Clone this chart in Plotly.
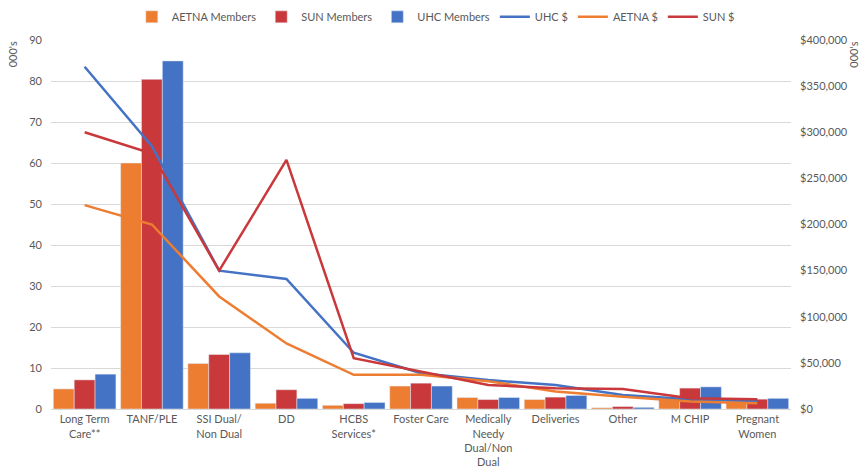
import plotly.graph_objects as go

categories = ["Long Term<br>Care**", "TANF/PLE", "SSI Dual/<br>Non Dual", "DD", "HCBS<br>Services*",
              "Foster Care", "Medically<br>Needy<br>Dual/Non<br>Dual", "Deliveries", "Other", "M CHIP",
              "Pregnant<br>Women"]
aetna_members = [4.9, 60.0, 11.1, 1.4, 0.9, 5.6, 2.8, 2.3, 0.3, 2.7, 1.9]
sun_members = [7.1, 80.4, 13.3, 4.7, 1.3, 6.3, 2.3, 2.9, 0.6, 5.1, 2.4]
uhc_members = [8.5, 84.9, 13.7, 2.6, 1.6, 5.6, 2.8, 3.3, 0.4, 5.4, 2.6]
uhc_dollars = [371000, 285000, 150000, 141000, 61000, 38700, 31400, 26000, 15200, 10500, 8500]
aetna_dollars = [221000, 200000, 122000, 71000, 37000, 37000, 30000, 19000, 13300, 8000, 6100]
sun_dollars = [300000, 277000, 150000, 270000, 55000, 40400, 26000, 22400, 21700, 11600, 10500]

ORANGE = "#ED7D31"
RED = "#C9383A"
BLUE = "#4472C4"
FONT = "Lato"
GRAY = "#595959"

fig = go.Figure()
fig.add_trace(go.Bar(x=categories, y=aetna_members, name="AETNA Members", marker_color=ORANGE))
fig.add_trace(go.Bar(x=categories, y=sun_members, name="SUN Members", marker_color=RED))
fig.add_trace(go.Bar(x=categories, y=uhc_members, name="UHC Members", marker_color=BLUE))
fig.add_trace(go.Scatter(x=categories, y=uhc_dollars, name="UHC $", mode="lines",
                         line=dict(color=BLUE, width=2.5), yaxis="y2"))
fig.add_trace(go.Scatter(x=categories, y=aetna_dollars, name="AETNA $", mode="lines",
                         line=dict(color=ORANGE, width=2.5), yaxis="y2"))
fig.add_trace(go.Scatter(x=categories, y=sun_dollars, name="SUN $", mode="lines",
                         line=dict(color=RED, width=2.5), yaxis="y2"))

fig.update_layout(
    width=862, height=472,
    margin=dict(l=51, r=71, t=40, b=63, autoexpand=False),
    plot_bgcolor="white", paper_bgcolor="white",
    font=dict(family=FONT, size=11, color=GRAY),
    barmode="group", bargap=0.07, bargroupgap=0,
    legend=dict(orientation="h", x=0.52, xanchor="center", y=0.995, yanchor="top",
                yref="container", font=dict(size=11, color=GRAY), traceorder="normal",
                itemwidth=30),
    xaxis=dict(showgrid=False, tickfont=dict(size=11, color=GRAY), ticks="",
               showline=True, linecolor="#d9d9d9", automargin=False),
    yaxis=dict(range=[0, 90], dtick=10, showgrid=True, gridcolor="#d9d9d9",
               tickfont=dict(size=11, color=GRAY), zeroline=False, ticks="",
               ticklabelstandoff=8, automargin=False),
    yaxis2=dict(range=[0, 400000], dtick=50000, overlaying="y", side="right", showgrid=False,
                tickprefix="$", tickformat=",d", tickfont=dict(size=11, color=GRAY),
                zeroline=False, ticks="", ticklabelstandoff=8, automargin=False),
    annotations=[
        dict(text="000's", xref="paper", yref="paper", x=-0.052, y=0.96, showarrow=False,
             textangle=-90, font=dict(size=11, color=GRAY), xanchor="center", yanchor="middle"),
        dict(text="000's", xref="paper", yref="paper", x=1.085, y=0.96, showarrow=False,
             textangle=-90, font=dict(size=11, color=GRAY), xanchor="center", yanchor="middle"),
    ],
)

fig.write_html("out.html")
